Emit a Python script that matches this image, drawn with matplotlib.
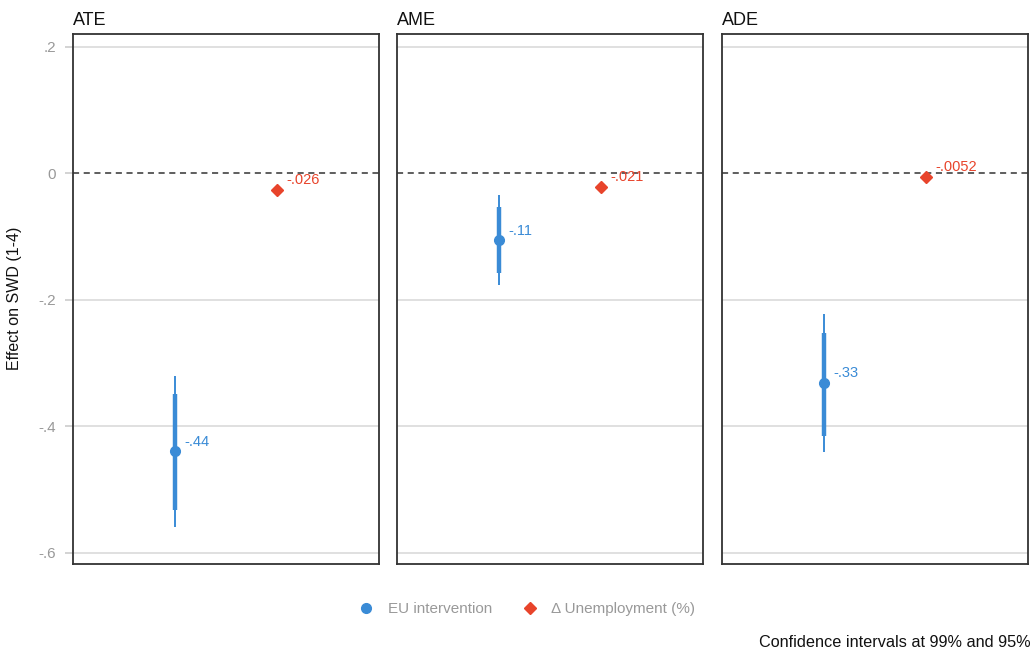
import matplotlib.pyplot as plt
from matplotlib.lines import Line2D

plt.rcParams['font.family'] = ['Liberation Sans', 'DejaVu Sans']

panels = ["ATE", "AME", "ADE"]

# EU intervention: estimate, 99% CI, 95% CI
eu_est = [-0.44, -0.106, -0.331]
eu_lo99 = [-0.559, -0.176, -0.441]
eu_hi99 = [-0.320, -0.035, -0.223]
eu_lo95 = [-0.532, -0.158, -0.415]
eu_hi95 = [-0.349, -0.054, -0.252]
eu_lab = ["-.44", "-.11", "-.33"]

# change in unemployment
un_est = [-0.026, -0.021, -0.0052]
un_lo99 = [-0.033, -0.027, -0.010]
un_hi99 = [-0.019, -0.015, -0.0004]
un_lo95 = [-0.031, -0.025, -0.009]
un_hi95 = [-0.021, -0.017, -0.0014]
un_lab = ["-.026", "-.021", "-.0052"]

yticks = [0.2, 0, -0.2, -0.4, -0.6]
ytick_labels = [".2", "0", "-.2", "-.4", "-.6"]

blue = "#3a8bd6"
red = "#e8442b"

fig = plt.figure(figsize=(10.34, 6.53), dpi=100)

lefts = [73, 397, 722]
for i, name in enumerate(panels):
    ax = fig.add_axes([lefts[i] / 1034, 1 - 564 / 653, 306 / 1034, 530.5 / 653])
    ax.set_xlim(0, 3)
    ax.set_ylim(-0.618, 0.221)
    for y in [0.2, -0.2, -0.4, -0.6]:
        ax.axhline(y, color="#dddddd", lw=1.3, zorder=0)
    ax.axhline(0, color="#333333", lw=1.1, ls=(0, (4, 3)), zorder=1)

    ax.vlines(1, eu_lo99[i], eu_hi99[i], color=blue, lw=1.4, zorder=2)
    ax.vlines(1, eu_lo95[i], eu_hi95[i], color=blue, lw=3.2, zorder=2)
    ax.plot(1, eu_est[i], "o", color=blue, ms=7, zorder=3)
    ax.annotate(eu_lab[i], (1, eu_est[i]), xytext=(7, 7), textcoords="offset points",
                color=blue, fontsize=10.5, ha="left", va="center")

    ax.vlines(2, un_lo99[i], un_hi99[i], color=red, lw=1.4, zorder=2)
    ax.vlines(2, un_lo95[i], un_hi95[i], color=red, lw=3.2, zorder=2)
    ax.plot(2, un_est[i], "D", color=red, ms=6.5, zorder=3)
    ax.annotate(un_lab[i], (2, un_est[i]), xytext=(7, 7), textcoords="offset points",
                color=red, fontsize=10.5, ha="left", va="center")

    ax.set_xticks([])
    ax.set_yticks(yticks)
    if i == 0:
        ax.set_yticklabels(ytick_labels)
        ax.tick_params(axis="y", length=6, width=1.2, color="#cccccc",
                       labelcolor="#999999", labelsize=11, pad=6)
        ax.set_ylabel("Effect on SWD (1-4)", fontsize=11.5, color="#111111", labelpad=12)
    else:
        ax.tick_params(axis="y", length=0, labelleft=False)
    for s in ax.spines.values():
        s.set_color("#333333")
        s.set_linewidth(1.3)
    ax.set_title(name, loc="left", fontsize=13, color="#111111", pad=6)

handles = [
    Line2D([], [], marker="o", color=blue, ls="none", ms=7),
    Line2D([], [], marker="D", color=red, ls="none", ms=6.5),
]
fig.legend(handles, ["EU intervention", "\u0394 Unemployment (%)"], loc="center",
           bbox_to_anchor=(0.506, 0.067), ncol=2, frameon=False, fontsize=11,
           labelcolor="#999999", handletextpad=0.4, columnspacing=1.5)

fig.text(0.997, 0.004, "Confidence intervals at 99% and 95%", ha="right", va="bottom",
         fontsize=11.7, color="#111111")

fig.savefig("out.png", dpi=100)
